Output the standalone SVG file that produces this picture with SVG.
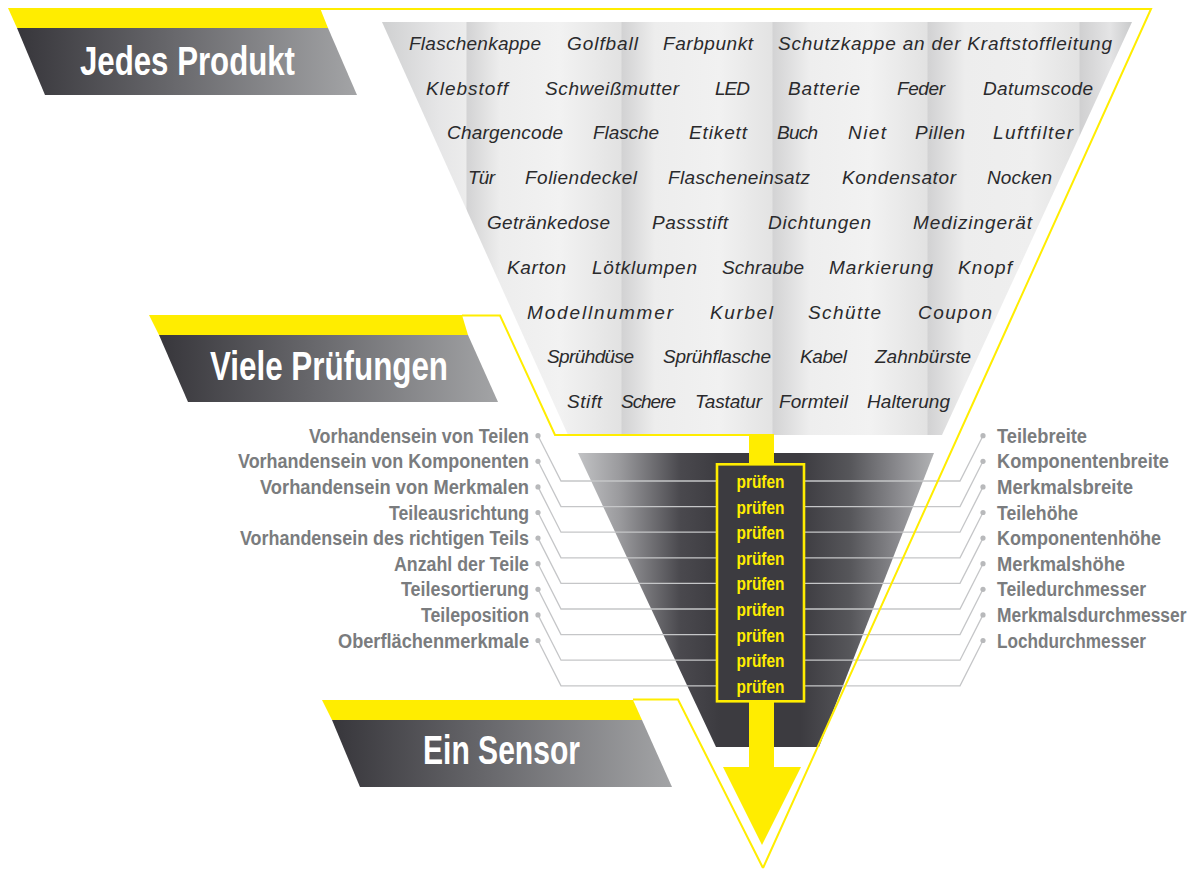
<svg xmlns="http://www.w3.org/2000/svg" width="1194" height="869" viewBox="0 0 1194 869">
<defs>
<linearGradient id="gBanner" x1="0" y1="0" x2="1" y2="0">
<stop offset="0" stop-color="#37363b"/>
<stop offset="0.45" stop-color="#67676b"/>
<stop offset="1" stop-color="#a3a4a6"/>
</linearGradient>
<linearGradient id="gLight" gradientUnits="userSpaceOnUse" x1="382" y1="0" x2="1132" y2="0">
<stop offset="0" stop-color="#cfd0d1"/>
<stop offset="0.0773" stop-color="#e6e6e7"/>
<stop offset="0.112" stop-color="#ececec"/>
<stop offset="0.1133" stop-color="#d3d3d4"/>
<stop offset="0.1573" stop-color="#ededed"/>
<stop offset="0.2373" stop-color="#f2f2f2"/>
<stop offset="0.3187" stop-color="#e2e2e2"/>
<stop offset="0.32" stop-color="#d2d2d3"/>
<stop offset="0.364" stop-color="#ededed"/>
<stop offset="0.4507" stop-color="#f1f1f1"/>
<stop offset="0.52" stop-color="#e3e3e3"/>
<stop offset="0.5213" stop-color="#d3d3d4"/>
<stop offset="0.5707" stop-color="#eeeeee"/>
<stop offset="0.6507" stop-color="#f2f2f2"/>
<stop offset="0.7267" stop-color="#e2e2e2"/>
<stop offset="0.728" stop-color="#d2d2d3"/>
<stop offset="0.7773" stop-color="#ededed"/>
<stop offset="0.864" stop-color="#efefef"/>
<stop offset="0.9293" stop-color="#e2e2e2"/>
<stop offset="0.9307" stop-color="#d0d0d1"/>
<stop offset="0.9707" stop-color="#e4e4e5"/>
<stop offset="1" stop-color="#c9cacb"/>
</linearGradient>
<linearGradient id="gDark" gradientUnits="userSpaceOnUse" x1="578" y1="0" x2="934" y2="0">
<stop offset="0" stop-color="#c2c3c5"/>
<stop offset="0.118" stop-color="#9a9a9d"/>
<stop offset="0.287" stop-color="#4a494e"/>
<stop offset="0.399" stop-color="#3c3b40"/>
<stop offset="0.624" stop-color="#3c3b40"/>
<stop offset="0.764" stop-color="#56565a"/>
<stop offset="0.904" stop-color="#8c8c90"/>
<stop offset="1" stop-color="#b1b2b4"/>
</linearGradient>
</defs>
<style>
.yel{fill:#ffed00}
.outline{fill:none;stroke:#ffed00;stroke-width:2;stroke-linejoin:miter}
.ban{fill:url(#gBanner)}
.bt{font-family:"Liberation Sans",Arial,sans-serif;font-weight:bold;font-size:41px;fill:#ffffff}
.pw{font-family:"Liberation Sans",Arial,sans-serif;font-style:italic;font-size:19px;fill:#2a2a2c}
.lb{font-family:"Liberation Sans",Arial,sans-serif;font-weight:bold;font-size:20px;fill:#7a7c7e}
.pr{font-family:"Liberation Sans",Arial,sans-serif;font-weight:bold;font-size:18px;fill:#ffed00;text-anchor:middle}
.ld{fill:none;stroke:#c5c6c8;stroke-width:1.3}
.dot{fill:#b8b9bb}
</style>

<g id="funnel-products">
<polygon points="382,22 1132,22 942,435 568,435" fill="url(#gLight)"/>
</g>
<g id="funnel-checks">
<polygon points="578,453 934,453 819,747 716,747" fill="url(#gDark)"/>
</g>
<g id="sensor-arrow">
<rect class="yel" x="749" y="434" width="25" height="334"/>
<polygon class="yel" points="723,767 801,767 762,845"/>
</g>

<g id="connectors">
<path class="ld" d="M538,435.7 L561,481 H717"/>
<path class="ld" d="M538,461.3 L561,506.6 H717"/>
<path class="ld" d="M538,486.9 L561,532.2 H717"/>
<path class="ld" d="M538,512.5 L561,557.8 H717"/>
<path class="ld" d="M538,538.1 L561,583.4 H717"/>
<path class="ld" d="M538,563.7 L561,609 H717"/>
<path class="ld" d="M538,589.3 L561,634.6 H717"/>
<path class="ld" d="M538,614.9 L561,660.2 H717"/>
<path class="ld" d="M538,640.5 L561,685.8 H717"/>
<path class="ld" d="M983,435.7 L960,481 H804"/>
<path class="ld" d="M983,461.3 L960,506.6 H804"/>
<path class="ld" d="M983,486.9 L960,532.2 H804"/>
<path class="ld" d="M983,512.5 L960,557.8 H804"/>
<path class="ld" d="M983,538.1 L960,583.4 H804"/>
<path class="ld" d="M983,563.7 L960,609 H804"/>
<path class="ld" d="M983,589.3 L960,634.6 H804"/>
<path class="ld" d="M983,614.9 L960,660.2 H804"/>
<path class="ld" d="M983,640.5 L960,685.8 H804"/>
<circle class="dot" cx="538" cy="435.7" r="2.6"/>
<circle class="dot" cx="538" cy="461.3" r="2.6"/>
<circle class="dot" cx="538" cy="486.9" r="2.6"/>
<circle class="dot" cx="538" cy="512.5" r="2.6"/>
<circle class="dot" cx="538" cy="538.1" r="2.6"/>
<circle class="dot" cx="538" cy="563.7" r="2.6"/>
<circle class="dot" cx="538" cy="589.3" r="2.6"/>
<circle class="dot" cx="538" cy="614.9" r="2.6"/>
<circle class="dot" cx="538" cy="640.5" r="2.6"/>
<circle class="dot" cx="983" cy="435.7" r="2.6"/>
<circle class="dot" cx="983" cy="461.3" r="2.6"/>
<circle class="dot" cx="983" cy="486.9" r="2.6"/>
<circle class="dot" cx="983" cy="512.5" r="2.6"/>
<circle class="dot" cx="983" cy="538.1" r="2.6"/>
<circle class="dot" cx="983" cy="563.7" r="2.6"/>
<circle class="dot" cx="983" cy="589.3" r="2.6"/>
<circle class="dot" cx="983" cy="614.9" r="2.6"/>
<circle class="dot" cx="983" cy="640.5" r="2.6"/>
</g>

<g id="check-box">
<rect x="717" y="464.3" width="87" height="237" fill="#3c3b40" stroke="#ffed00" stroke-width="2.6"/>
<text class="pr" x="760.5" y="488" textLength="48" lengthAdjust="spacingAndGlyphs">prüfen</text>
<text class="pr" x="760.5" y="513.6" textLength="48" lengthAdjust="spacingAndGlyphs">prüfen</text>
<text class="pr" x="760.5" y="539.2" textLength="48" lengthAdjust="spacingAndGlyphs">prüfen</text>
<text class="pr" x="760.5" y="564.8" textLength="48" lengthAdjust="spacingAndGlyphs">prüfen</text>
<text class="pr" x="760.5" y="590.4" textLength="48" lengthAdjust="spacingAndGlyphs">prüfen</text>
<text class="pr" x="760.5" y="616" textLength="48" lengthAdjust="spacingAndGlyphs">prüfen</text>
<text class="pr" x="760.5" y="641.6" textLength="48" lengthAdjust="spacingAndGlyphs">prüfen</text>
<text class="pr" x="760.5" y="667.2" textLength="48" lengthAdjust="spacingAndGlyphs">prüfen</text>
<text class="pr" x="760.5" y="692.8" textLength="48" lengthAdjust="spacingAndGlyphs">prüfen</text>
</g>

<g id="outlines">
<path class="outline" d="M320,9 H1151 L763,868"/>
<path class="outline" d="M462,315.5 H500 L555,435 H750"/>
<path class="outline" d="M633,699.5 H678 L763,868"/>
</g>

<g id="banner-jedes-produkt">
<polygon class="yel" points="8,8 320,8 328,28 17,28"/>
<polygon class="ban" points="17,28 328,28 357,95 45,95"/>
<text class="bt" x="80" y="75" textLength="215" lengthAdjust="spacingAndGlyphs">Jedes Produkt</text>
</g>
<g id="banner-viele-pruefungen">
<polygon class="yel" points="149,315 462,315 468,335 159,335"/>
<polygon class="ban" points="159,335 468,335 498,402 188,402"/>
<text class="bt" x="210" y="380" textLength="238" lengthAdjust="spacingAndGlyphs">Viele Prüfungen</text>
</g>
<g id="banner-ein-sensor">
<polygon class="yel" points="322,700 633,700 642,720 332,720"/>
<polygon class="ban" points="332,720 642,720 672,787 360,787"/>
<text class="bt" x="423" y="764" textLength="157" lengthAdjust="spacingAndGlyphs">Ein Sensor</text>
</g>

<g id="products">
<text class="pw" x="409" y="50" textLength="132" lengthAdjust="spacing">Flaschenkappe</text>
<text class="pw" x="567" y="50" textLength="71" lengthAdjust="spacing">Golfball</text>
<text class="pw" x="663" y="50" textLength="90" lengthAdjust="spacing">Farbpunkt</text>
<text class="pw" x="778" y="50" textLength="334" lengthAdjust="spacing">Schutzkappe an der Kraftstoffleitung</text>
<text class="pw" x="426" y="95" textLength="82" lengthAdjust="spacing">Klebstoff</text>
<text class="pw" x="545" y="95" textLength="134" lengthAdjust="spacing">Schweißmutter</text>
<text class="pw" x="715" y="95" textLength="35" lengthAdjust="spacing">LED</text>
<text class="pw" x="788" y="95" textLength="72" lengthAdjust="spacing">Batterie</text>
<text class="pw" x="897" y="95" textLength="48" lengthAdjust="spacing">Feder</text>
<text class="pw" x="983" y="95" textLength="110" lengthAdjust="spacing">Datumscode</text>
<text class="pw" x="447" y="139" textLength="116" lengthAdjust="spacing">Chargencode</text>
<text class="pw" x="593" y="139" textLength="66" lengthAdjust="spacing">Flasche</text>
<text class="pw" x="689" y="139" textLength="58" lengthAdjust="spacing">Etikett</text>
<text class="pw" x="777" y="139" textLength="41" lengthAdjust="spacing">Buch</text>
<text class="pw" x="848" y="139" textLength="38" lengthAdjust="spacing">Niet</text>
<text class="pw" x="915" y="139" textLength="50" lengthAdjust="spacing">Pillen</text>
<text class="pw" x="993" y="139" textLength="80" lengthAdjust="spacing">Luftfilter</text>
<text class="pw" x="468" y="184" textLength="27" lengthAdjust="spacing">Tür</text>
<text class="pw" x="525" y="184" textLength="112" lengthAdjust="spacing">Foliendeckel</text>
<text class="pw" x="668" y="184" textLength="142" lengthAdjust="spacing">Flascheneinsatz</text>
<text class="pw" x="842" y="184" textLength="114" lengthAdjust="spacing">Kondensator</text>
<text class="pw" x="987" y="184" textLength="65" lengthAdjust="spacing">Nocken</text>
<text class="pw" x="487" y="229" textLength="123" lengthAdjust="spacing">Getränkedose</text>
<text class="pw" x="652" y="229" textLength="76" lengthAdjust="spacing">Passstift</text>
<text class="pw" x="768" y="229" textLength="103" lengthAdjust="spacing">Dichtungen</text>
<text class="pw" x="913" y="229" textLength="119" lengthAdjust="spacing">Medizingerät</text>
<text class="pw" x="507" y="274" textLength="59" lengthAdjust="spacing">Karton</text>
<text class="pw" x="592" y="274" textLength="105" lengthAdjust="spacing">Lötklumpen</text>
<text class="pw" x="722" y="274" textLength="82" lengthAdjust="spacing">Schraube</text>
<text class="pw" x="829" y="274" textLength="104" lengthAdjust="spacing">Markierung</text>
<text class="pw" x="958" y="274" textLength="54" lengthAdjust="spacing">Knopf</text>
<text class="pw" x="527" y="319" textLength="146" lengthAdjust="spacing">Modellnummer</text>
<text class="pw" x="710" y="319" textLength="63" lengthAdjust="spacing">Kurbel</text>
<text class="pw" x="808" y="319" textLength="73" lengthAdjust="spacing">Schütte</text>
<text class="pw" x="918" y="319" textLength="74" lengthAdjust="spacing">Coupon</text>
<text class="pw" x="547" y="363" textLength="87" lengthAdjust="spacing">Sprühdüse</text>
<text class="pw" x="663" y="363" textLength="108" lengthAdjust="spacing">Sprühflasche</text>
<text class="pw" x="800" y="363" textLength="47" lengthAdjust="spacing">Kabel</text>
<text class="pw" x="875" y="363" textLength="96" lengthAdjust="spacing">Zahnbürste</text>
<text class="pw" x="567" y="408" textLength="35" lengthAdjust="spacing">Stift</text>
<text class="pw" x="621" y="408" textLength="55" lengthAdjust="spacing">Schere</text>
<text class="pw" x="695" y="408" textLength="67" lengthAdjust="spacing">Tastatur</text>
<text class="pw" x="779" y="408" textLength="69" lengthAdjust="spacing">Formteil</text>
<text class="pw" x="867" y="408" textLength="83" lengthAdjust="spacing">Halterung</text>
</g>

<g id="labels-left">
<text class="lb" x="309" y="442.7" textLength="220" lengthAdjust="spacingAndGlyphs">Vorhandensein von Teilen</text>
<text class="lb" x="238" y="468.3" textLength="291" lengthAdjust="spacingAndGlyphs">Vorhandensein von Komponenten</text>
<text class="lb" x="260" y="493.9" textLength="269" lengthAdjust="spacingAndGlyphs">Vorhandensein von Merkmalen</text>
<text class="lb" x="389" y="519.5" textLength="140" lengthAdjust="spacingAndGlyphs">Teileausrichtung</text>
<text class="lb" x="240" y="545.1" textLength="289" lengthAdjust="spacingAndGlyphs">Vorhandensein des richtigen Teils</text>
<text class="lb" x="394" y="570.7" textLength="135" lengthAdjust="spacingAndGlyphs">Anzahl der Teile</text>
<text class="lb" x="401" y="596.3" textLength="128" lengthAdjust="spacingAndGlyphs">Teilesortierung</text>
<text class="lb" x="421" y="621.9" textLength="108" lengthAdjust="spacingAndGlyphs">Teileposition</text>
<text class="lb" x="338" y="647.5" textLength="191" lengthAdjust="spacingAndGlyphs">Oberflächenmerkmale</text>
</g>
<g id="labels-right">
<text class="lb" x="997" y="442.7" textLength="90" lengthAdjust="spacingAndGlyphs">Teilebreite</text>
<text class="lb" x="997" y="468.3" textLength="172" lengthAdjust="spacingAndGlyphs">Komponentenbreite</text>
<text class="lb" x="997" y="493.9" textLength="136" lengthAdjust="spacingAndGlyphs">Merkmalsbreite</text>
<text class="lb" x="997" y="519.5" textLength="81" lengthAdjust="spacingAndGlyphs">Teilehöhe</text>
<text class="lb" x="997" y="545.1" textLength="164" lengthAdjust="spacingAndGlyphs">Komponentenhöhe</text>
<text class="lb" x="997" y="570.7" textLength="128" lengthAdjust="spacingAndGlyphs">Merkmalshöhe</text>
<text class="lb" x="997" y="596.3" textLength="149" lengthAdjust="spacingAndGlyphs">Teiledurchmesser</text>
<text class="lb" transform="translate(997,621.9) scale(0.87,1)" x="0" y="0">Merkmalsdurchmesser</text>
<text class="lb" x="997" y="647.5" textLength="149" lengthAdjust="spacingAndGlyphs">Lochdurchmesser</text>
</g>
</svg>
